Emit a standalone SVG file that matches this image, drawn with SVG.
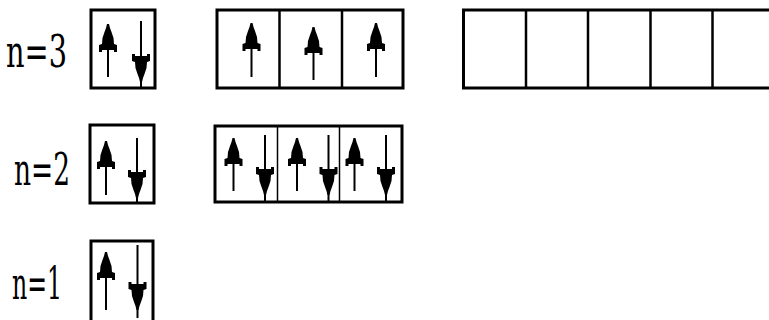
<svg xmlns="http://www.w3.org/2000/svg" xmlns:xlink="http://www.w3.org/1999/xlink" width="769" height="320" viewBox="0 0 769 320">
<style>
.box{fill:none;stroke:#000;stroke-width:3}
.div{stroke:#000;stroke-width:2.5}
.thin{stroke:#000;stroke-width:1.5}
.shaft{stroke:#000;stroke-width:2}
.lbl{font-family:"DejaVu Serif","Liberation Serif",serif;font-size:44px;fill:#000}
</style>
<defs>
<path id="uh" d="M-1,0 H1 L2,4 L3.5,8 L5.5,14 L6,20 L9,21 V28 H6 V26 H-6 V28 H-9 V21 L-6,20 L-5.5,14 L-3.5,8 L-2,4 Z" fill="#000"/>
<path id="dh" d="M-1,0 H1 L2,-4 L3.5,-8 L5.5,-14 L6,-20 L9,-21 V-28 H6 V-26 H-6 V-28 H-9 V-21 L-6,-20 L-5.5,-14 L-3.5,-8 L-2,-4 Z" fill="#000"/>
</defs>
<rect width="769" height="320" fill="#fff"/>

<g id="label-n3"><text class="lbl" x="6" y="67" textLength="61" lengthAdjust="spacingAndGlyphs">n=3</text></g>
<g id="label-n2"><text class="lbl" x="14" y="185" textLength="56" lengthAdjust="spacingAndGlyphs">n=2</text></g>
<g id="label-n1"><text class="lbl" x="12" y="299" textLength="50" lengthAdjust="spacingAndGlyphs">n=1</text></g>

<g id="n3-s">
<rect class="box" x="91" y="10" width="64" height="78"/>
<line class="shaft" x1="108" y1="26" x2="108" y2="77"/><use xlink:href="#uh" x="108" y="24"/>
<line class="shaft" x1="141" y1="21" x2="141" y2="88"/><use xlink:href="#dh" x="141" y="82"/>
</g>

<g id="n3-p">
<rect class="box" x="217" y="10" width="186" height="78"/>
<line class="div" x1="279.5" y1="10" x2="279.5" y2="88"/>
<line class="div" x1="342" y1="10" x2="342" y2="88"/>
<line class="shaft" x1="251.5" y1="26" x2="251.5" y2="77"/><use xlink:href="#uh" x="251.5" y="23"/>
<line class="shaft" x1="313.5" y1="28" x2="313.5" y2="80"/><use xlink:href="#uh" x="313.5" y="27"/>
<line class="shaft" x1="376" y1="26" x2="376" y2="77"/><use xlink:href="#uh" x="376" y="23"/>
</g>

<g id="n3-d">
<rect class="box" x="463.5" y="10" width="330" height="78"/>
<line class="div" x1="526" y1="10" x2="526" y2="88"/>
<line class="div" x1="588" y1="10" x2="588" y2="88"/>
<line class="div" x1="650.5" y1="10" x2="650.5" y2="88"/>
<line class="div" x1="712.5" y1="10" x2="712.5" y2="88"/>
</g>

<g id="n2-s">
<rect class="box" x="90" y="125" width="64" height="78"/>
<line class="shaft" x1="106" y1="143" x2="106" y2="195"/><use xlink:href="#uh" x="106" y="141"/>
<line class="shaft" x1="137" y1="138" x2="137" y2="203"/><use xlink:href="#dh" x="137" y="198"/>
</g>

<g id="n2-p">
<rect class="box" x="215" y="126" width="187" height="76"/>
<line class="thin" x1="277.5" y1="126" x2="277.5" y2="202"/>
<line class="thin" x1="339.5" y1="126" x2="339.5" y2="202"/>
<line class="shaft" x1="233.5" y1="140" x2="233.5" y2="191"/><use xlink:href="#uh" x="233.5" y="138"/>
<line class="shaft" x1="265" y1="135" x2="265" y2="202"/><use xlink:href="#dh" x="265" y="195"/>
<line class="shaft" x1="297" y1="140" x2="297" y2="191"/><use xlink:href="#uh" x="297" y="138"/>
<line class="shaft" x1="328.5" y1="135" x2="328.5" y2="202"/><use xlink:href="#dh" x="328.5" y="195"/>
<line class="shaft" x1="354.5" y1="140" x2="354.5" y2="191"/><use xlink:href="#uh" x="354.5" y="138"/>
<line class="shaft" x1="386" y1="135" x2="386" y2="202"/><use xlink:href="#dh" x="386" y="195"/>
</g>

<g id="n1-s">
<rect class="box" x="91" y="241" width="62" height="90"/>
<line class="shaft" x1="106" y1="254" x2="106" y2="310"/><use xlink:href="#uh" x="106" y="252"/>
<line class="shaft" x1="137.5" y1="245" x2="137.5" y2="318"/><use xlink:href="#dh" x="137.5" y="310"/>
</g>
</svg>
